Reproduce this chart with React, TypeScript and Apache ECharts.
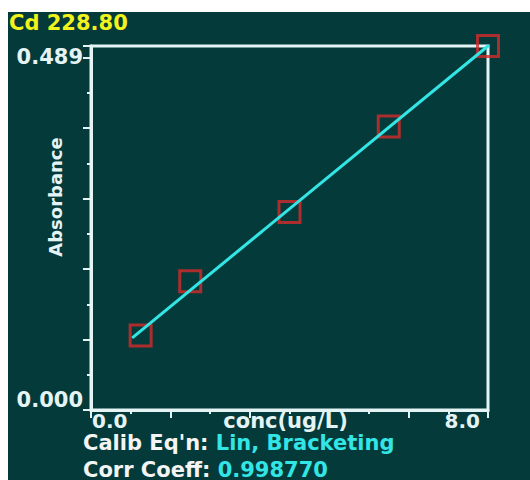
import React, { useEffect, useRef } from "react";
import * as echarts from "echarts";

const titleText = "Cd 228.80";
const xAxisName = "conc(ug/L)";
const yAxisName = "Absorbance";
const xTickLabels = ["0.0", "8.0"];
const yTickLabels = ["0.000", "0.489"];
const concentration = [1.0, 2.0, 4.0, 6.0, 8.0];
const absorbance = [0.1, 0.173, 0.266, 0.381, 0.489];
const fitX = [0.85, 8.0];
const fitY = [0.098, 0.489];
const calibLabel = "Calib Eq'n: ";
const calibValue = "Lin, Bracketing";
const corrLabel = "Corr Coeff: ";
const corrValue = "0.998770";

const FONT = "DejaVu Sans";
const BG = "#053a3a";
const FRAME = "#e4f4f4";
const CYAN = "#33e6e6";
const RED = "#d42a2a";

const tightText = { color: FRAME, fontFamily: FONT, fontWeight: "bold", fontSize: 20, lineHeight: 15, height: 15 };

export default function App() {
  const ref = useRef<HTMLDivElement>(null);
  useEffect(() => {
    if (!ref.current) return;
    const chart = echarts.init(ref.current, null, { renderer: "svg" });
    chart.setOption({
      animation: false,
      backgroundColor: BG,
      title: {
        text: titleText,
        left: 1,
        top: 0,
        padding: 0,
        textStyle: { color: "#f2f21c", fontFamily: FONT, fontWeight: "bold", fontSize: 21 },
      },
      grid: {
        left: 83,
        top: 34,
        right: 42,
        bottom: 70,
        containLabel: false,
        outerBoundsMode: "none",
        show: true,
        borderColor: FRAME,
        borderWidth: 3,
        backgroundColor: "transparent",
      },
      xAxis: {
        type: "value",
        min: 0,
        max: 8,
        interval: 1.6,
        name: `{n|${xAxisName}}`,
        nameLocation: "middle",
        nameGap: 3,
        nameMoveOverlap: false,
        nameTextStyle: { padding: [0, 8, 0, 0], rich: { n: { ...tightText, fontSize: 21 } } },
        axisLine: { show: true, lineStyle: { color: FRAME, width: 3 } },
        axisTick: { show: true, length: 8, lineStyle: { color: FRAME, width: 2 } },
        minorTick: { show: true, splitNumber: 2, length: 4, lineStyle: { color: FRAME, width: 2 } },
        splitLine: { show: false },
        axisLabel: {
          show: true,
          margin: 3,
          showMinLabel: true,
          showMaxLabel: true,
          alignMinLabel: "left",
          alignMaxLabel: "right",
          padding: [0, 8, 0, 1],
          rich: { t: tightText },
          formatter: (v: number) =>
            v === 0 ? `{t|${xTickLabels[0]}}` : Math.abs(v - 8) < 1e-9 ? `{t|${xTickLabels[1]}}` : "",
        },
      },
      yAxis: {
        type: "value",
        min: 0,
        max: 0.489,
        interval: 0.0947,
        name: yAxisName,
        nameLocation: "middle",
        nameGap: 27,
        nameMoveOverlap: false,
        nameTextStyle: { color: FRAME, fontFamily: FONT, fontWeight: "bold", fontSize: 18, padding: [0, 0, 0, 62] },
        axisLine: { show: true, lineStyle: { color: FRAME, width: 3 } },
        axisTick: { show: true, length: 8, lineStyle: { color: FRAME, width: 2 } },
        minorTick: { show: true, splitNumber: 2, length: 4, lineStyle: { color: FRAME, width: 2 } },
        splitLine: { show: false },
        axisLabel: {
          show: true,
          margin: 8,
          showMinLabel: true,
          showMaxLabel: true,
          verticalAlignMinLabel: "bottom",
          verticalAlignMaxLabel: "top",
          color: FRAME,
          fontFamily: FONT,
          fontWeight: "bold",
          fontSize: 21,
          formatter: (v: number) => (v === 0 ? yTickLabels[0] : Math.abs(v - 0.489) < 1e-9 ? yTickLabels[1] : ""),
        },
      },
      series: [
        {
          type: "scatter",
          data: concentration.map((x, i) => [x, absorbance[i]]),
          symbol: "rect",
          symbolSize: 21,
          clip: false,
          z: 2,
          itemStyle: { color: "rgba(0,0,0,0)", borderColor: RED, borderWidth: 3 },
        },
        {
          type: "line",
          data: fitX.map((x, i) => [x, fitY[i]]),
          symbol: "none",
          clip: false,
          z: 3,
          lineStyle: { color: CYAN, width: 3, cap: "round" },
        },
      ],
      graphic: [
        {
          type: "text",
          left: 75,
          top: 420,
          style: {
            text: `{w|${calibLabel}}{c|${calibValue}}\n{w|${corrLabel}}{c|${corrValue}}`,
            rich: {
              w: { fill: "#f4f4f4", fontFamily: FONT, fontWeight: "bold", fontSize: 21, lineHeight: 27 },
              c: { fill: CYAN, fontFamily: FONT, fontWeight: "bold", fontSize: 21, lineHeight: 27 },
            },
          },
        },
      ],
    });
    return () => chart.dispose();
  }, []);
  return (
    <div
      ref={ref}
      style={{ position: "fixed", left: 8, top: 12, width: 522, height: 468 }}
    />
  );
}
